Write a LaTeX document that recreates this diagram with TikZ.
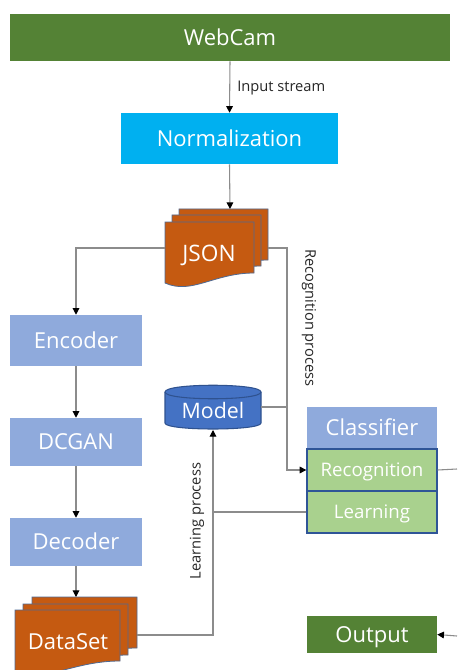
\documentclass[tikz,border=0pt]{standalone}
\usepackage{fontspec}
\setmainfont{Open Sans}
\usetikzlibrary{arrows.meta,calc}
\definecolor{cgreen}{HTML}{548235}
\definecolor{ccyan}{HTML}{00B0F0}
\definecolor{clblue}{HTML}{8FAADC}
\definecolor{corange}{HTML}{C55A11}
\definecolor{cdocedge}{HTML}{4E6A94}
\definecolor{clgreen}{HTML}{A9D18E}
\definecolor{cdblue}{HTML}{2F5597}
\definecolor{cmodel}{HTML}{4472C4}
\definecolor{cmodeledge}{HTML}{2F528F}
\definecolor{cline}{HTML}{8C8C8C}
\newcommand\docpage[3]{%
  \filldraw[fill=corange, draw=cdocedge, line width=0.6pt]
    (#1,#2) -- ({#1+#3},#2) -- ({#1+#3},{#2+51})
    .. controls ({#1+0.55*#3},{#2+51}) and ({#1+0.3*#3},{#2+73}) .. (#1,{#2+61}) -- cycle;}
\begin{document}
\begin{tikzpicture}[x=0.75pt,y=-0.75pt,
  box/.style={rectangle, inner sep=0pt, text=white, font=\fontsize{16.5}{18}\selectfont, text height=11.8pt, text depth=0pt},
  subbox/.style={box, draw=cdblue, line width=1pt, fill=clgreen, font=\fontsize{14}{16}\selectfont, text height=10pt, minimum width=97.5pt, minimum height=31.5pt},
  conn/.style={draw=cline, line width=0.8pt},
  arr/.style={conn, -{Triangle[length=5pt,width=5pt,color=black]}},
  lbl/.style={font=\fontsize{11}{13}\selectfont, text=black!85, inner sep=0pt}]
\clip (0,0) rectangle (457,670);
\fill[white] (0,0) rectangle (457,670);

% boxes
\node[box, fill=cgreen, minimum width=330pt, minimum height=35.25pt] (webcam) at (230,37.5) {WebCam};
\node[box, fill=ccyan, minimum width=162.75pt, minimum height=38.25pt] (norm) at (229.5,138.5) {Normalization};
\node[box, fill=clblue, minimum width=99pt, minimum height=38.25pt] (enc) at (76,340.5) {Encoder};
\node[box, fill=clblue, minimum width=99pt, minimum height=36pt] (dcgan) at (76,442) {DCGAN};
\node[box, fill=clblue, minimum width=99pt, minimum height=36pt] (dec) at (76,542) {Decoder};
\node[box, fill=clblue, minimum width=97.5pt, minimum height=31.5pt] (cls) at (372,428) {Classifier};
\node[subbox] (recog) at (372,470) {Recognition};
\node[subbox] (learn) at (372,512) {Learning};
\node[box, fill=cgreen, minimum width=97.5pt, minimum height=27.75pt] (out) at (372,634.5) {Output};

% JSON stack
\docpage{179}{209}{89}
\docpage{172}{215}{89}
\docpage{165}{222}{89}
\node[box, font=\fontsize{17}{18}\selectfont, text height=12.1pt] (json) at (209,253) {JSON};
\coordinate (jtop) at (230,209);
\coordinate (jsonL) at (165,248);
\coordinate (jsonR) at (268,248);

% DataSet stack
\docpage{32}{597}{105}
\docpage{23}{604}{105}
\docpage{15}{610}{105}
\node[box] (ds) at (68,642) {DataSet};
\coordinate (dstop) at (76,597);
\coordinate (dsR) at (137,635);

% Model cylinder
\filldraw[fill=cmodel, draw=cmodeledge, line width=0.8pt]
  (165,392) -- (165,423) .. controls (165,431) and (261,431) .. (261,423)
  -- (261,392) .. controls (261,383) and (165,383) .. (165,392) -- cycle;
\draw[cmodeledge, line width=0.8pt] (165,392) .. controls (165,401) and (261,401) .. (261,392);
\node[box, font=\fontsize{16}{18}\selectfont, text height=11.4pt] (model) at (213,411) {Model};
\coordinate (mbot) at (213,430);
\coordinate (mright) at (261,407);

% junctions / edges
\coordinate (jr) at (287,248);
\coordinate (edgeR) at (457,469);
\coordinate (edgeO) at (457,636);

% connectors
\draw[arr] (webcam.south) -- (norm.north);
\draw[arr] (norm.south) -- (jtop);
\draw[arr] (jsonL) -| (enc.north);
\draw[arr] (enc.south) -- (dcgan.north);
\draw[arr] (dcgan.south) -- (dec.north);
\draw[arr] (dec.south) -- (dstop);
\draw[arr] (jsonR) -- (jr) |- (recog.west);
\draw[conn] (mright) -- (mright -| jr);
\draw[arr] (dsR) -| (mbot);
\draw[conn] (learn.west) -- (learn.west -| mbot);
\draw[conn] (recog.east) -- (edgeR);
\draw[arr] (edgeO) -- (out.east);

% labels
\node[lbl, anchor=west] (lin) at (237,88) {Input stream};
\node[lbl, rotate=-90] (lrec) at (309,318) {Recognition process};
\node[lbl, rotate=90] (llearn) at (197,521) {Learning process};
\end{tikzpicture}
\end{document}
